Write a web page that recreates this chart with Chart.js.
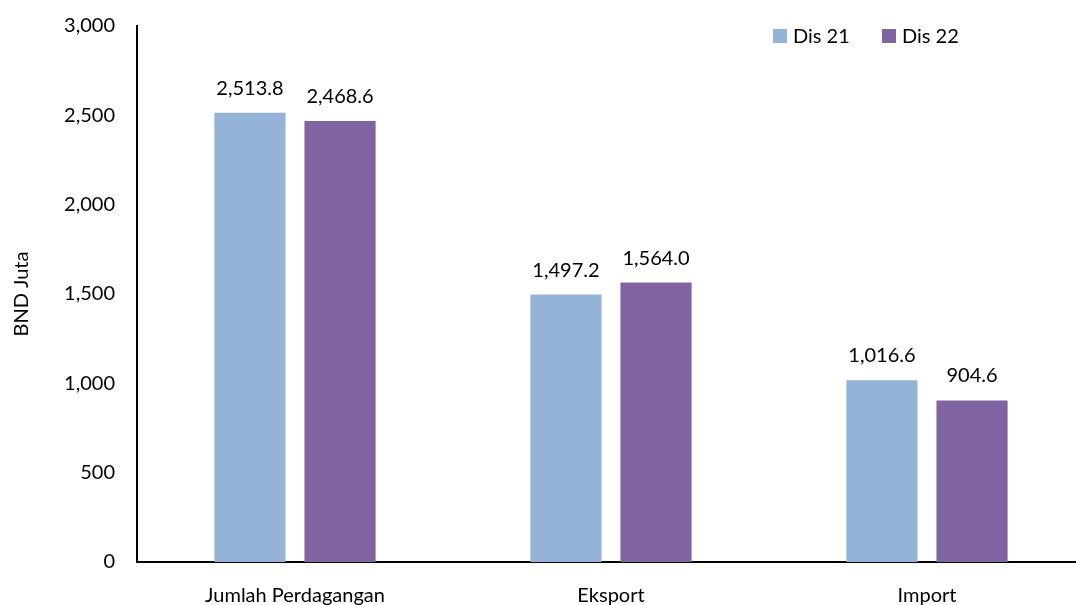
<!DOCTYPE html>
<html>
<head>
<meta charset="utf-8">
<script src="https://cdn.jsdelivr.net/npm/chart.js@4/dist/chart.umd.min.js"></script>
<style>
  html, body { margin: 0; padding: 0; background: #fff; overflow: hidden; }
  #wrap { width: 1085px; height: 605px; position: relative; }
</style>
</head>
<body>
<div id="wrap"><canvas id="tradeChart"></canvas></div>
<script>
// --- data ---
const categories = ['Jumlah Perdagangan', 'Eksport', 'Import'];
const seriesNames = ['Dis 21', 'Dis 22'];
const dis21 = [2513.8, 1497.2, 1016.6];
const dis22 = [2468.6, 1564.0, 904.6];
const yTicks = [0, 500, 1000, 1500, 2000, 2500, 3000];

const colors = ['#95B3D7', '#8064A2'];
const FONT = 'Lato, "Open Sans", sans-serif';
const FSIZE = 20;

const fmt = (v, d) => v.toLocaleString('en-US', { minimumFractionDigits: d, maximumFractionDigits: d });

// labels on top of the bars
const valueLabels = {
    id: 'valueLabels',
    afterDatasetsDraw(chart) {
        const ctx = chart.ctx;
        ctx.save();
        ctx.font = FSIZE + 'px ' + FONT;
        ctx.fillStyle = '#000';
        ctx.textAlign = 'center';
        ctx.textBaseline = 'alphabetic';
        chart.data.datasets.forEach((ds, i) => {
            chart.getDatasetMeta(i).data.forEach((bar, j) => {
                ctx.fillText(fmt(ds.data[j], 1), bar.x, bar.y - 18);
            });
        });
        ctx.restore();
    }
};

// legend in the top right corner
const cornerLegend = {
    id: 'cornerLegend',
    afterDraw(chart) {
        const ctx = chart.ctx;
        ctx.save();
        ctx.font = FSIZE + 'px ' + FONT;
        ctx.textBaseline = 'middle';
        ctx.textAlign = 'left';
        let x = 773;
        const y = 36;
        chart.data.datasets.forEach(ds => {
            ctx.fillStyle = ds.backgroundColor;
            ctx.fillRect(x, y - 7, 14, 14);
            ctx.fillStyle = '#000';
            ctx.fillText(ds.label, x + 20, y + 1);
            x += 109;
        });
        ctx.restore();
    }
};

new Chart(document.getElementById('tradeChart'), {
    type: 'bar',
    data: {
        labels: categories,
        datasets: [
            { label: seriesNames[0], data: dis21, backgroundColor: colors[0] },
            { label: seriesNames[1], data: dis22, backgroundColor: colors[1] }
        ]
    },
    options: {
        responsive: true,
        maintainAspectRatio: false,
        animation: false,
        categoryPercentage: 0.57,
        barPercentage: 0.79,
        layout: { padding: { top: 11, left: 0, right: 0, bottom: 0 } },
        plugins: { legend: { display: false }, tooltip: { enabled: false } },
        scales: {
            x: {
                grid: { display: false },
                border: { color: '#000', width: 2 },
                ticks: { color: '#000', font: { family: FONT, size: FSIZE }, padding: 14, maxRotation: 0 },
                afterFit: s => { s.height = 43; }
            },
            y: {
                min: 0,
                max: 3000,
                afterBuildTicks: s => { s.ticks = yTicks.map(v => ({ value: v })); },
                grid: { display: false },
                border: { color: '#000', width: 2 },
                ticks: { color: '#000', font: { family: FONT, size: FSIZE }, padding: 14, callback: v => fmt(v, 0) },
                title: { display: true, text: 'BND Juta', color: '#000', font: { family: FONT, size: FSIZE }, padding: { top: 10, bottom: 0 } },
                afterFit: s => { s.width = 137; }
            }
        }
    },
    plugins: [valueLabels, cornerLegend]
});
</script>
</body>
</html>
